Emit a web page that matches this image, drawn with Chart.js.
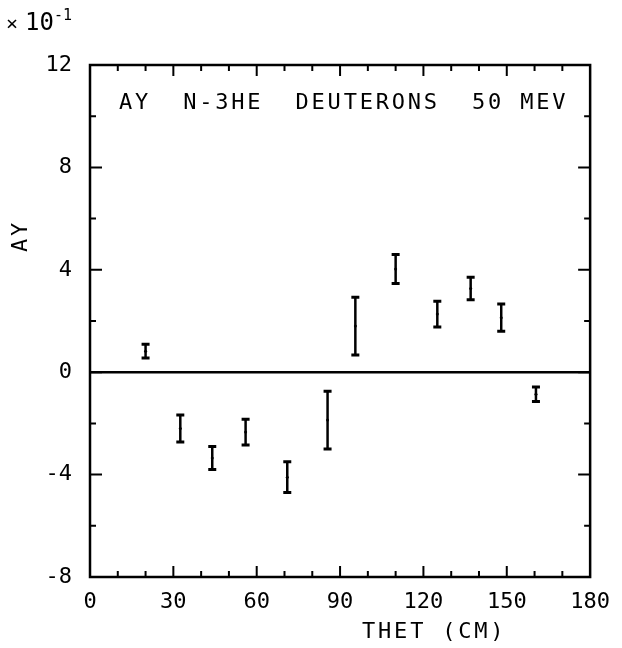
<!DOCTYPE html>
<html><head><meta charset="utf-8">
<script src="https://cdn.jsdelivr.net/npm/chart.js@4/dist/chart.umd.min.js"></script>
<style>html,body{margin:0;padding:0;background:#fff}#wrap{width:622px;height:648px}</style>
</head><body><div id="wrap"><canvas id="c" width="622" height="648"></canvas></div>
<script>
// ---- data ----
const thetaDeg = [20, 32.5, 44, 56, 71, 85.5, 95.5, 110, 125, 137, 148, 160.5];
const ayValues = [0.82, -2.2, -3.35, -2.34, -4.1, -1.87, 1.8, 4.03, 2.27, 3.27, 2.13, -0.86];
const ayErrors = [0.27, 0.53, 0.45, 0.5, 0.6, 1.13, 1.13, 0.57, 0.5, 0.44, 0.53, 0.28];
const xTickLabels = [0, 30, 60, 90, 120, 150, 180];
const yTickLabels = [-8, -4, 0, 4, 8, 12];
const titleText = "AY  N-3HE  DEUTERONS  50 MEV";
const xTitle = "THET (CM)";
const yTitle = "AY";
const scaleFactor = ["\u00d7", "10", "-1"];

const FONT = "'DejaVu Sans Mono', 'Liberation Mono', monospace";

const frame = {
  id: 'frame',
  afterDatasetsDraw(chart) {
    const ctx = chart.ctx, a = chart.chartArea;
    const xs = chart.scales.x, ys = chart.scales.y;
    ctx.save();
    ctx.strokeStyle = '#000';
    ctx.fillStyle = '#000';
    // zero line
    ctx.lineWidth = 2.5;
    const y0 = ys.getPixelForValue(0);
    ctx.beginPath(); ctx.moveTo(a.left, y0); ctx.lineTo(a.right, y0); ctx.stroke();
    // error bars
    for (let i = 0; i < thetaDeg.length; i++) {
      const px = xs.getPixelForValue(thetaDeg[i]);
      const yl = ys.getPixelForValue(ayValues[i] - ayErrors[i]);
      const yh = ys.getPixelForValue(ayValues[i] + ayErrors[i]);
      ctx.lineWidth = 2.5;
      ctx.beginPath();
      ctx.moveTo(px, yl); ctx.lineTo(px, yh);
      ctx.stroke();
      ctx.lineWidth = 3;
      ctx.beginPath();
      ctx.moveTo(px - 4, yl); ctx.lineTo(px + 4, yl);
      ctx.moveTo(px - 4, yh); ctx.lineTo(px + 4, yh);
      ctx.stroke();
    }
    // box
    ctx.lineWidth = 2.5;
    ctx.strokeRect(a.left, a.top, a.right - a.left, a.bottom - a.top);
    // x ticks (bottom & top, inward)
    ctx.lineWidth = 2;
    ctx.beginPath();
    for (let v = 10; v < 180; v += 10) {
      const px = xs.getPixelForValue(v);
      const len = v % 30 === 0 ? 11 : 6;
      ctx.moveTo(px, a.bottom); ctx.lineTo(px, a.bottom - len);
      ctx.moveTo(px, a.top); ctx.lineTo(px, a.top + len);
    }
    // y ticks (left & right, inward)
    for (let v = -6; v < 12; v += 2) {
      const py = ys.getPixelForValue(v);
      const len = v % 4 === 0 ? 12 : 6;
      ctx.moveTo(a.left, py); ctx.lineTo(a.left + len, py);
      ctx.moveTo(a.right, py); ctx.lineTo(a.right - len, py);
    }
    ctx.stroke();
    // title inside plot
    ctx.font = '22px ' + FONT;
    ctx.textBaseline = 'middle';
    ctx.textAlign = 'left';
    ctx.letterSpacing = '2.8px';
    ctx.fillText(titleText, a.left + 29, a.top + 38);
    // x title
    ctx.fillText(xTitle, a.left + 272, a.bottom + 55);
    // y title (rotated)
    ctx.save();
    ctx.translate(21, 236);
    ctx.rotate(-Math.PI / 2);
    ctx.textAlign = 'center';
    ctx.fillText(yTitle, 0, 0);
    ctx.restore();
    // scale factor x10^-1
    ctx.letterSpacing = '0px';
    ctx.textAlign = 'left';
    ctx.font = '20px ' + FONT;
    ctx.fillText(scaleFactor[0], 6, 25);
    ctx.font = '24px ' + FONT;
    ctx.fillText(scaleFactor[1], 25, 24);
    ctx.font = '15px ' + FONT;
    ctx.fillText(scaleFactor[2], 54, 16);
    ctx.restore();
  }
};

new Chart(document.getElementById('c'), {
  type: 'scatter',
  data: {
    datasets: [{
      data: thetaDeg.map((t, i) => ({ x: t, y: ayValues[i] })),
      pointRadius: 1.5,
      pointBackgroundColor: '#000',
      pointBorderColor: '#000',
      pointBorderWidth: 0,
      showLine: false
    }]
  },
  options: {
    responsive: false,
    devicePixelRatio: 1,
    animation: false,
    layout: { padding: { left: 0, right: 29, top: 65, bottom: 0 } },
    plugins: { legend: { display: false }, tooltip: { enabled: false }, title: { display: false } },
    scales: {
      x: {
        type: 'linear', min: 0, max: 180,
        afterBuildTicks: (s) => { s.ticks = xTickLabels.map(v => ({ value: v })); },
        afterFit: (s) => { s.height = 71; },
        grid: { display: false, drawTicks: false },
        border: { display: false },
        ticks: { color: '#000', font: { family: FONT, size: 22 }, padding: 12, maxRotation: 0, autoSkip: false }
      },
      y: {
        type: 'linear', min: -8, max: 12,
        afterBuildTicks: (s) => { s.ticks = yTickLabels.map(v => ({ value: v })); },
        afterFit: (s) => { s.width = 90; },
        grid: { display: false, drawTicks: false },
        border: { display: false },
        ticks: { color: '#000', font: { family: FONT, size: 22 }, padding: 18, autoSkip: false }
      }
    }
  },
  plugins: [frame]
});
</script>
</body></html>
